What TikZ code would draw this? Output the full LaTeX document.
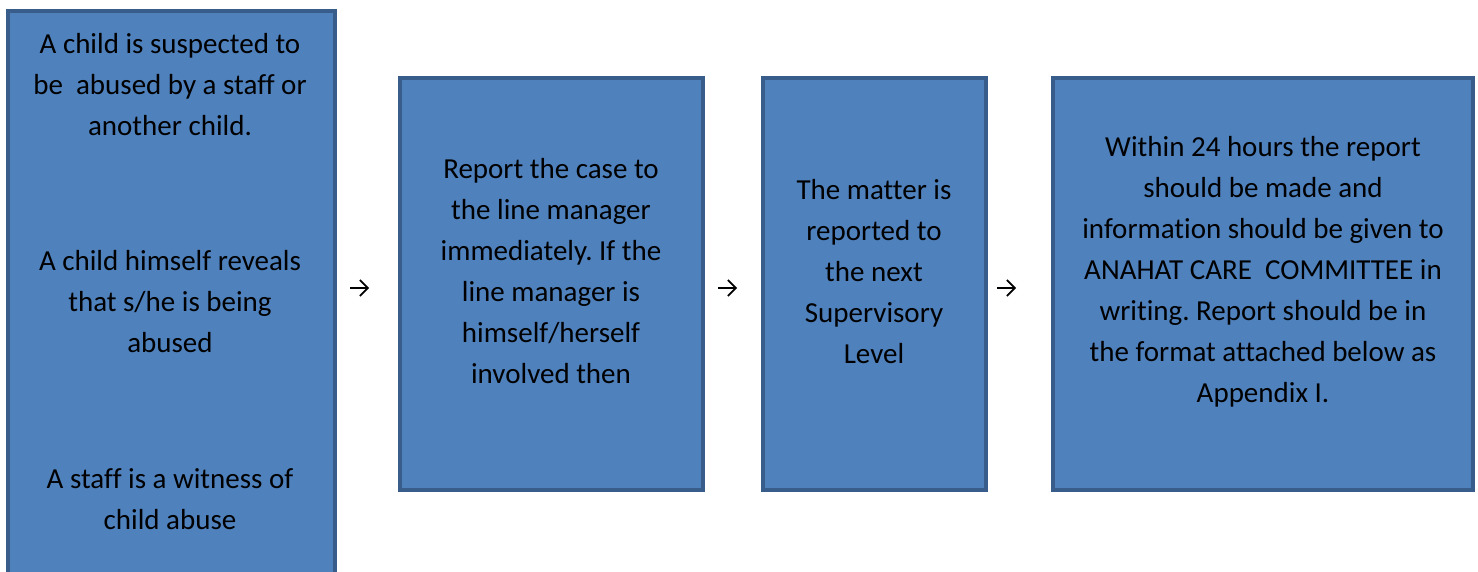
\documentclass[tikz,border=0pt]{standalone}
\usepackage{fontspec}
\setmainfont[Ligatures=NoCommon]{Carlito}
\usetikzlibrary{arrows.meta}
\definecolor{boxfill}{HTML}{4F81BD}
\definecolor{boxline}{HTML}{385D8A}
\tikzset{
  stage/.style={draw=boxline, fill=boxfill, line width=4pt, rectangle,
    inner sep=0pt, outer sep=0pt, anchor=north west},
  caption/.style={align=center, inner sep=0pt, text=black,
    font=\fontsize{29}{41}\selectfont},
  flow/.style={line width=1.6pt, -{Straight Barb[length=8pt,width=16pt,line width=1.6pt]}}
}
\frenchspacing
\begin{document}
\begin{tikzpicture}[x=1pt, y=-1pt]
\useasboundingbox (0,0) rectangle (1478,572);
% the four stages
\node[stage, minimum width=327pt, minimum height=620pt] (s1) at (8,11) {};
\node[stage, minimum width=303pt, minimum height=412pt] (s2) at (400,78) {};
\node[stage, minimum width=223pt, minimum height=412pt] (s3) at (763,78) {};
\node[stage, minimum width=420pt, minimum height=412pt] (s4) at (1053,78) {};
% first stage: three situations
\node[caption] (t1a) at (170,85) {A child is suspected to\\be\ \ abused by a staff or\\another child.};
\node[caption] (t1b) at (170,302) {A child himself reveals\\that s/he is being\\abused};
\node[caption] (t1c) at (170,499) {A staff is a witness of\\child abuse};
% remaining stages
\node[caption] (t2) at (551,271) {Report the case to\\the line manager\\immediately. If the\\line manager is\\himself/herself\\involved then};
\node[caption] (t3) at (874,272) {The matter is\\reported to\\the next\\Supervisory\\Level};
\node[caption] (t4) at (1263,272) {Within 24 hours the report\\should be made and\\information should be given to\\ANAHAT CARE\ \ COMMITTEE in\\writing. Report should be in\\the format attached below as\\Appendix I.};
% connectors between stages
\draw[flow, shorten <=15pt, shorten >=31pt] (s1.east |- 0,288) -- (s2.west |- 0,288);
\draw[flow, shorten <=15pt, shorten >=26pt] (s2.east |- 0,288) -- (s3.west |- 0,288);
\draw[flow, shorten <=11pt, shorten >=37pt] (s3.east |- 0,288) -- (s4.west |- 0,288);
\end{tikzpicture}
\end{document}
